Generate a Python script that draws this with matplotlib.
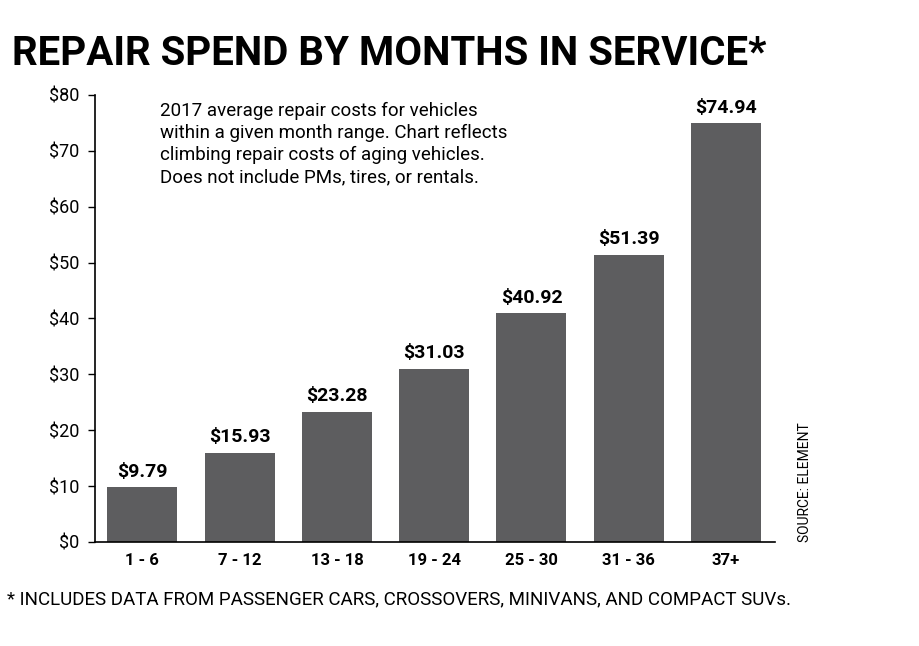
import matplotlib
matplotlib.use("Agg")
import matplotlib.pyplot as plt

categories = ["1 - 6", "7 - 12", "13 - 18", "19 - 24", "25 - 30", "31 - 36", "37+"]
values = [9.79, 15.93, 23.28, 31.03, 40.92, 51.39, 74.94]
yticks = [0, 10, 20, 30, 40, 50, 60, 70, 80]

plt.rcParams['font.family'] = ['Roboto', 'DejaVu Sans']
fig = plt.figure(figsize=(9.2, 6.46), dpi=100)
ax = fig.add_axes([0.103, 0.161, 0.739, 0.692])
x = range(len(categories))
ax.bar(x, values, width=0.72, color="#5d5d5f")
for i, v in zip(x, values):
    ax.text(i, v + 1.2, f"${v:.2f}", ha="center", va="bottom", fontsize=14, fontweight="bold")
ax.set_xlim(-0.49, 6.5)
ax.set_ylim(0, 80)
ax.set_yticks(yticks)
ax.set_yticklabels([f"${t}" for t in yticks], fontsize=13)
ax.set_xticks(list(x))
ax.set_xticklabels(categories, fontsize=12, fontweight="bold")
ax.tick_params(axis="x", length=0, pad=8)
ax.tick_params(axis="y", length=5, width=1, pad=6)
for s in ["top", "right"]:
    ax.spines[s].set_visible(False)
ax.spines["left"].set_linewidth(1.2)
ax.spines["bottom"].set_linewidth(1.2)
ax.text(0.18, 78.8, "2017 average repair costs for vehicles\nwithin a given month range. Chart reflects\nclimbing repair costs of aging vehicles.\nDoes not include PMs, tires, or rentals.",
        fontsize=13.5, va="top", ha="left", linespacing=1.3)
fig.text(0.013, 0.9, "REPAIR SPEND BY MONTHS IN SERVICE*", fontsize=29, fontweight="bold", va="baseline")
fig.text(0.008, 0.065, "* INCLUDES DATA FROM PASSENGER CARS, CROSSOVERS, MINIVANS, AND COMPACT SUVs.", fontsize=13.5, va="baseline")
fig.text(0.875, 0.161, "SOURCE: ELEMENT", rotation=90, fontsize=10, va="bottom", ha="center")
fig.savefig("out.png", dpi=100)
